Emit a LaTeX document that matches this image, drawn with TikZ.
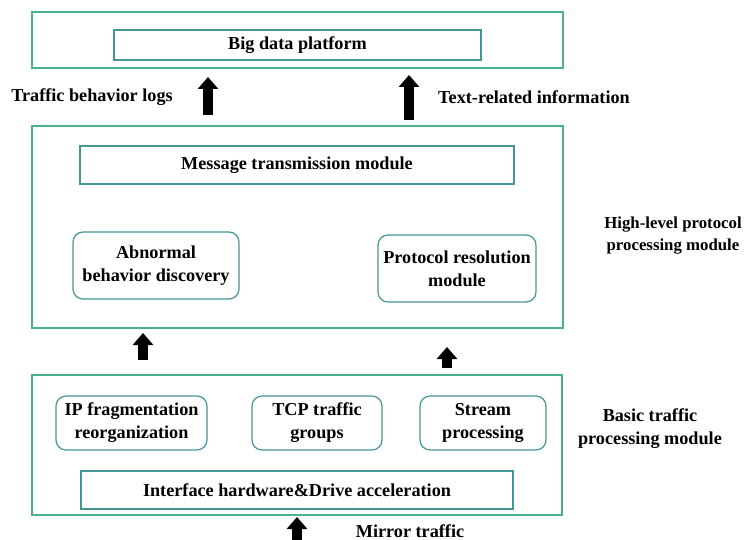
\documentclass[tikz,border=0pt]{standalone}
\usepackage{fontspec}
\setmainfont{Liberation Serif}
\usetikzlibrary{arrows.meta}
\definecolor{bgreen}{RGB}{72,178,140}
\definecolor{bteal}{RGB}{70,150,150}
\begin{document}
\begin{tikzpicture}[x=1pt,y=-1pt,
  outerbox/.style={draw=bgreen,line width=1.4pt},
  flatbox/.style={draw=bteal,line width=1.2pt},
  roundbox/.style={draw=bteal,line width=1.2pt,rounded corners=10pt},
  lbl/.style={font=\fontsize{18.2}{23}\selectfont\bfseries,align=center,inner sep=0pt},
  blockarrow/.style={line width=10pt,-{Triangle[width=20pt,length=12pt]}}]
\useasboundingbox (0,0) rectangle (744,540);
% top
\draw[outerbox] (32,12) rectangle (563,68);
\node[flatbox,minimum width=367pt,minimum height=30pt,lbl] (bdp) at (297.5,45) {Big data platform};
% middle
\draw[outerbox] (32,126) rectangle (563,328);
\node[flatbox,minimum width=434pt,minimum height=38pt,lbl] (msg) at (297,165) {Message transmission module};
\node[roundbox,minimum width=166pt,minimum height=67pt,lbl] (abn) at (156,265.5) {Abnormal\\behavior discovery};
\node[roundbox,minimum width=158pt,minimum height=67pt,lbl] (prot) at (457,268.5) {Protocol resolution\\module};
% bottom
\draw[outerbox] (32,375) rectangle (562,515);
\node[roundbox,minimum width=151pt,minimum height=54pt,lbl] (ip) at (131.5,423) {IP fragmentation\\reorganization};
\node[roundbox,minimum width=130pt,minimum height=54pt,lbl] (tcp) at (317,423) {TCP traffic\\groups};
\node[roundbox,minimum width=126pt,minimum height=54pt,lbl] (stream) at (483,423) {Stream\\processing};
\node[flatbox,minimum width=432pt,minimum height=38pt,lbl] (iface) at (297,490) {Interface hardware\&Drive acceleration};
% side labels
\node[lbl] (l1) at (92,97) {Traffic behavior logs};
\node[lbl] (l2) at (534,97) {Text-related information};
\node[lbl,font=\fontsize{16.8}{22}\selectfont\bfseries] (l3) at (673,236) {High-level protocol\\processing module};
\node[lbl] (l4) at (650,428.5) {Basic traffic\\processing module};
\node[lbl] (l5) at (410,531) {Mirror traffic};
% arrows
\coordinate (a1s) at (208,115); \coordinate (a1e) at (208,77);
\coordinate (a2s) at (409,120); \coordinate (a2e) at (409,75);
\coordinate (a3s) at (143,360); \coordinate (a3e) at (143,333);
\coordinate (a4s) at (447,368); \coordinate (a4e) at (447,347);
\coordinate (a5s) at (297,541); \coordinate (a5e) at (297,517);
\draw[blockarrow] (a1s) -- (a1e);
\draw[blockarrow] (a2s) -- (a2e);
\draw[blockarrow] (a3s) -- (a3e);
\draw[blockarrow] (a4s) -- (a4e);
\draw[blockarrow] (a5s) -- (a5e);
\end{tikzpicture}
\end{document}
